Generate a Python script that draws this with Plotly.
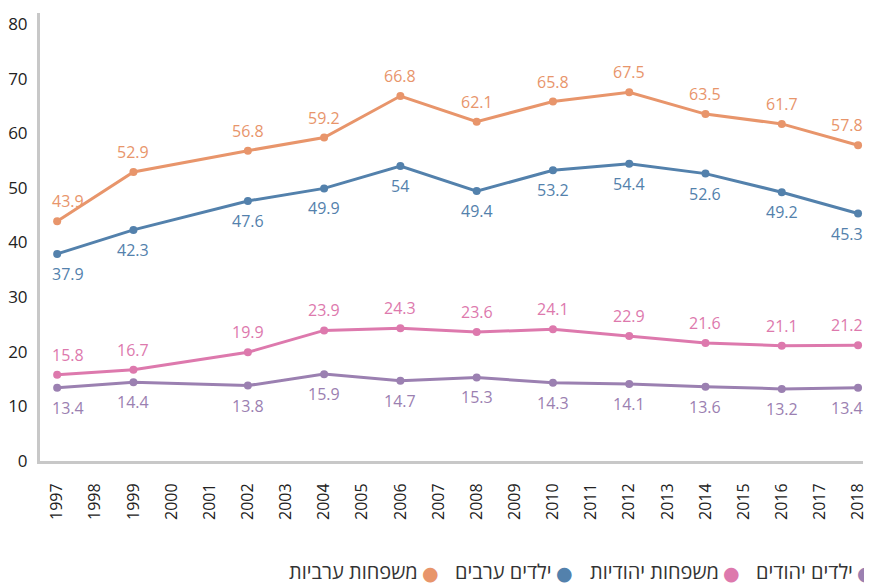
import plotly.graph_objects as go

years = [1997, 1999, 2002, 2004, 2006, 2008, 2010, 2012, 2014, 2016, 2018]
tick_years = list(range(1997, 2019))

arab_families = [43.9, 52.9, 56.8, 59.2, 66.8, 62.1, 65.8, 67.5, 63.5, 61.7, 57.8]
arab_children = [37.9, 42.3, 47.6, 49.9, 54, 49.4, 53.2, 54.4, 52.6, 49.2, 45.3]
jewish_families = [15.8, 16.7, 19.9, 23.9, 24.3, 23.6, 24.1, 22.9, 21.6, 21.1, 21.2]
jewish_children = [13.4, 14.4, 13.8, 15.9, 14.7, 15.3, 14.3, 14.1, 13.6, 13.2, 13.4]

names = ["משפחות ערביות", "ילדים ערבים", "משפחות יהודיות", "ילדים יהודים"]
series = [arab_families, arab_children, jewish_families, jewish_children]
colors = ["#E8956B", "#5381AC", "#DD79AD", "#9B80B1"]
label_side = [1, -1, 1, -1]

FONT = "Open Sans, Noto Sans, DejaVu Sans, sans-serif"

# page body has an 8px margin; work in screen pixels and shift
OFF = 8
FIG_W, FIG_H = 872 - OFF, 585 - OFF
L, R, T, B = 40 - OFF, 863 - OFF, 13 - OFF, 461 - OFF
W, H = R - L, B - T


def px(x):
    return (x - OFF - L) / W


def py(y):
    return (B - (y - OFF)) / H


fig = go.Figure()
annotations = []
for name, vals, col, side in zip(names, series, colors, label_side):
    fig.add_trace(go.Scatter(
        x=years, y=vals, name=name, mode="lines+markers",
        line=dict(color=col, width=3),
        marker=dict(color=col, size=8),
        showlegend=False,
    ))
    n = len(vals)
    for i, (xv, yv) in enumerate(zip(years, vals)):
        xs = 11 if i == 0 else (-11 if i == n - 1 else 0)
        annotations.append(dict(
            x=xv, y=yv, xref="x", yref="y", text=f"{yv:g}",
            showarrow=False, yshift=20 * side, xshift=xs,
            font=dict(family=FONT, size=16, color=col),
        ))

# custom RTL legend (text with dot on its right)
legend_dot_px = [430, 564, 731, 865]
for name, col, dx in zip(names, colors, legend_dot_px):
    annotations.append(dict(
        x=px(dx), y=py(573), xref="paper", yref="paper", text="●",
        showarrow=False, xanchor="center", yanchor="middle",
        font=dict(family="DejaVu Sans", size=19, color=col),
    ))
    annotations.append(dict(
        x=px(dx - 10), y=py(571), xref="paper", yref="paper", text=name,
        showarrow=False, xanchor="right", yanchor="middle",
        font=dict(family=FONT, size=20, color="#333333"),
    ))

fig.update_layout(
    width=FIG_W, height=FIG_H,
    margin=dict(l=L, r=FIG_W - R, t=T, b=FIG_H - B),
    paper_bgcolor="white", plot_bgcolor="white",
    font=dict(family=FONT, color="#222222"),
    annotations=annotations,
    showlegend=False,
)
fig.update_xaxes(
    range=[1996.55, 2018.13], automargin=False,
    tickmode="array", tickvals=tick_years, ticktext=[str(y) for y in tick_years],
    tickangle=-90, tickfont=dict(size=16, color="#222222"),
    showgrid=False, zeroline=False,
    showline=True, linecolor="#C8C8C8", linewidth=3,
    ticks="", ticklabelstandoff=13,
)
fig.update_yaxes(
    range=[0, 82], automargin=False,
    tickvals=[0, 10, 20, 30, 40, 50, 60, 70, 80],
    tickfont=dict(size=17, color="#222222"),
    showgrid=False, zeroline=False,
    showline=True, linecolor="#C8C8C8", linewidth=3,
    ticks="", ticklabelstandoff=6,
)

fig.write_html("out.html")
